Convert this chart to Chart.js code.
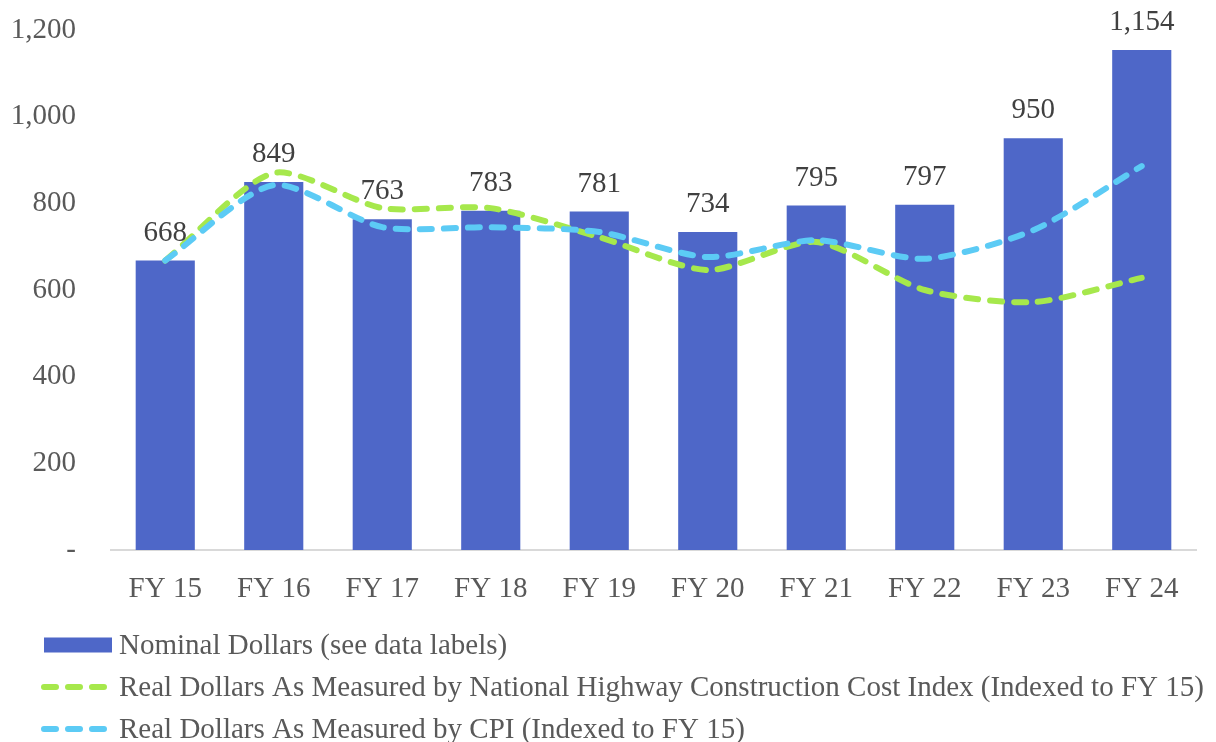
<!DOCTYPE html>
<html>
<head>
<meta charset="utf-8">
<script src="https://cdn.jsdelivr.net/npm/chart.js@4/dist/chart.umd.min.js"></script>
<style>
  html, body { margin: 0; padding: 0; background: #ffffff; }
  #wrap { width: 1216px; height: 742px; position: relative; }
</style>
</head>
<body>
<div id="wrap"><canvas id="c" width="1216" height="742"></canvas></div>
<script>
const categories = ['FY 15', 'FY 16', 'FY 17', 'FY 18', 'FY 19', 'FY 20', 'FY 21', 'FY 22', 'FY 23', 'FY 24'];
const nominalDollars = [668, 849, 763, 783, 781, 734, 795, 797, 950, 1154];
const realNhcci = [668, 870, 789, 789, 722, 646, 711, 600, 572, 628];
const realCpi = [668, 842, 745, 745, 734, 676, 715, 672, 738, 886];
const seriesLabels = [
  'Nominal Dollars (see data labels)',
  'Real Dollars As Measured by National Highway Construction Cost Index (Indexed to FY 15)',
  'Real Dollars As Measured by CPI (Indexed to FY 15)'
];
const yTicks = [0, 200, 400, 600, 800, 1000, 1200];

const FONT = '"Liberation Serif", "Times New Roman", serif';
const BAR = '#4E67C8';
const GREEN = '#A6E84C';
const BLUE = '#5CCBF5';
const fmt = v => v === 0 ? '-' : v.toLocaleString('en-US');

const dataLabels = {
  id: 'dataLabels',
  afterDatasetsDraw(chart) {
    const ctx = chart.ctx;
    const meta = chart.getDatasetMeta(0);
    ctx.save();
    ctx.font = '29px ' + FONT;
    ctx.fillStyle = '#404040';
    ctx.textAlign = 'center';
    ctx.textBaseline = 'alphabetic';
    meta.data.forEach((el, i) => {
      ctx.fillText(fmt(nominalDollars[i]), el.x, el.y - 20);
    });
    ctx.restore();
  }
};

const customLegend = {
  id: 'customLegend',
  afterDraw(chart) {
    const ctx = chart.ctx;
    const rows = [645, 687, 729];
    ctx.save();
    ctx.font = '29px ' + FONT;
    ctx.textAlign = 'left';
    ctx.textBaseline = 'middle';
    ctx.fillStyle = BAR;
    ctx.fillRect(44, rows[0] - 7.5, 68, 15);
    [[GREEN, rows[1]], [BLUE, rows[2]]].forEach(([col, y]) => {
      ctx.beginPath();
      ctx.strokeStyle = col;
      ctx.lineWidth = 6;
      ctx.lineCap = 'round';
      ctx.setLineDash([12, 12]);
      ctx.moveTo(44, y);
      ctx.lineTo(107, y);
      ctx.stroke();
    });
    ctx.setLineDash([]);
    ctx.fillStyle = '#595959';
    seriesLabels.forEach((t, i) => ctx.fillText(t, 119, rows[i] + 1));
    ctx.restore();
  }
};

new Chart(document.getElementById('c'), {
  data: {
    labels: categories,
    datasets: [
      {
        type: 'bar',
        label: seriesLabels[0],
        data: nominalDollars,
        backgroundColor: BAR,
        borderWidth: 0,
        categoryPercentage: 1,
        barPercentage: 0.545,
        order: 10
      },
      {
        type: 'line',
        label: seriesLabels[1],
        data: realNhcci,
        borderColor: GREEN,
        backgroundColor: GREEN,
        borderWidth: 6,
        borderDash: [12, 12],
        borderCapStyle: 'round',
        tension: 0.25,
        pointRadius: 0,
        fill: false,
        order: 2
      },
      {
        type: 'line',
        label: seriesLabels[2],
        data: realCpi,
        borderColor: BLUE,
        backgroundColor: BLUE,
        borderWidth: 6,
        borderDash: [12, 12],
        borderCapStyle: 'round',
        tension: 0.25,
        pointRadius: 0,
        fill: false,
        order: 1
      }
    ]
  },
  options: {
    responsive: false,
    animation: false,
    layout: { padding: { top: 30, right: 20, bottom: 132, left: 0 } },
    plugins: {
      legend: { display: false },
      tooltip: { enabled: false },
      title: { display: false }
    },
    scales: {
      x: {
        grid: { display: false, drawTicks: false },
        border: { display: true, color: '#d9d9d9', width: 2 },
        ticks: { color: '#595959', font: { family: FONT, size: 29 }, padding: 22, maxRotation: 0 },
        afterFit(s) { s.height = 60; s.paddingTop = 0; s.paddingBottom = 0; }
      },
      y: {
        min: 0,
        max: 1200,
        grid: { display: false, drawTicks: false },
        border: { display: false },
        afterBuildTicks(s) { s.ticks = yTicks.map(v => ({ value: v })); },
        ticks: {
          color: '#595959',
          font: { family: FONT, size: 29 },
          padding: 35,
          callback: v => fmt(v)
        },
        afterFit(s) { s.width = 111; s.paddingTop = 0; s.paddingBottom = 0; }
      }
    }
  },
  plugins: [dataLabels, customLegend]
});
</script>
</body>
</html>
